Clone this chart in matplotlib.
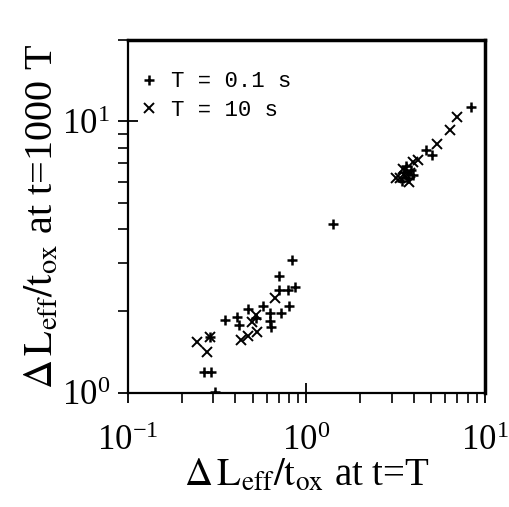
import matplotlib
matplotlib.use("Agg")
import matplotlib.pyplot as plt
from matplotlib.ticker import LogLocator, NullFormatter

plt.rcParams['mathtext.fontset'] = 'stix'
plt.rcParams['font.family'] = 'Liberation Serif'

# T = 0.1 s  (plus markers)
x_short = [0.827, 0.705, 0.699, 0.785, 0.867, 0.803, 0.721, 0.568, 0.468, 0.351,
           0.408, 0.420, 0.625, 0.625, 0.633, 0.288, 0.267, 0.291, 0.307, 0.520,
           1.405, 4.70, 5.02, 8.34,
           3.51, 3.69, 3.84, 3.42, 3.94, 3.60]
y_short = [3.08, 2.69, 2.39, 2.40, 2.45, 2.09, 1.97, 2.09, 2.04, 1.855,
           1.908, 1.778, 1.963, 1.845, 1.744, 1.61, 1.197, 1.197, 1.01, 1.88,
           4.18, 7.82, 7.50, 11.29,
           6.49, 6.17, 6.60, 6.02, 6.33, 6.83]

# T = 10 s  (cross markers)
x_long = [0.245, 0.279, 0.670, 0.527, 0.468, 0.429, 0.524, 0.288, 0.497,
          6.93, 6.36, 5.35, 4.22, 3.94, 3.19,
          3.55, 3.74, 3.46, 3.79, 3.33]
y_long = [1.544, 1.419, 2.23, 1.68, 1.62, 1.566, 1.935, 1.61, 1.82,
          10.37, 9.27, 8.28, 7.19, 7.06, 6.16,
          6.28, 5.97, 6.66, 6.44, 6.17]

fig = plt.figure(figsize=(5.09, 5.07), dpi=100)
ax = fig.add_axes([0.251, 0.225, 0.702, 0.697])

ax.plot(x_short, y_short, '+', color='black', ms=7, mew=1.8, label='T = 0.1 s')
ax.plot(x_long, y_long, 'x', color='black', ms=7, mew=1.4, label='T = 10 s')

ax.set_xscale('log')
ax.set_yscale('log')
ax.set_xlim(0.1, 10)
ax.set_ylim(1, 20)

ax.xaxis.set_major_locator(LogLocator(base=10, numticks=5))
ax.yaxis.set_major_locator(LogLocator(base=10, numticks=5))
ax.xaxis.set_minor_locator(LogLocator(base=10, subs=range(2, 10), numticks=20))
ax.yaxis.set_minor_locator(LogLocator(base=10, subs=range(2, 10), numticks=20))
ax.xaxis.set_minor_formatter(NullFormatter())
ax.yaxis.set_minor_formatter(NullFormatter())

ax.tick_params(which='major', direction='inout', length=14, width=1.3,
               labelsize=25, top=False, right=False)
ax.tick_params(axis='x', which='major', pad=16)
ax.tick_params(axis='y', which='major', pad=6)
ax.tick_params(which='minor', direction='out', length=7, width=1.2,
               top=False, right=False)

for side in ['left', 'bottom']:
    ax.spines[side].set_linewidth(1.6)
for side in ['top', 'right']:
    ax.spines[side].set_linewidth(2.5)

ax.set_xlabel(r'$\Delta\,\mathrm{L_{eff}/t_{ox}}$ at t=T', fontsize=28, labelpad=0)
ax.set_ylabel(r'$\Delta\,\mathrm{L_{eff}/t_{ox}}$ at t=1000 T', fontsize=29, labelpad=0)

leg = ax.legend(loc='upper left', bbox_to_anchor=(0.04, 0.91), frameon=False,
                handlelength=0.6, handletextpad=0.7, borderpad=0, borderaxespad=0,
                labelspacing=0.35, prop={'family': 'Liberation Mono', 'size': 16})

fig.savefig('out.png', dpi=100)
